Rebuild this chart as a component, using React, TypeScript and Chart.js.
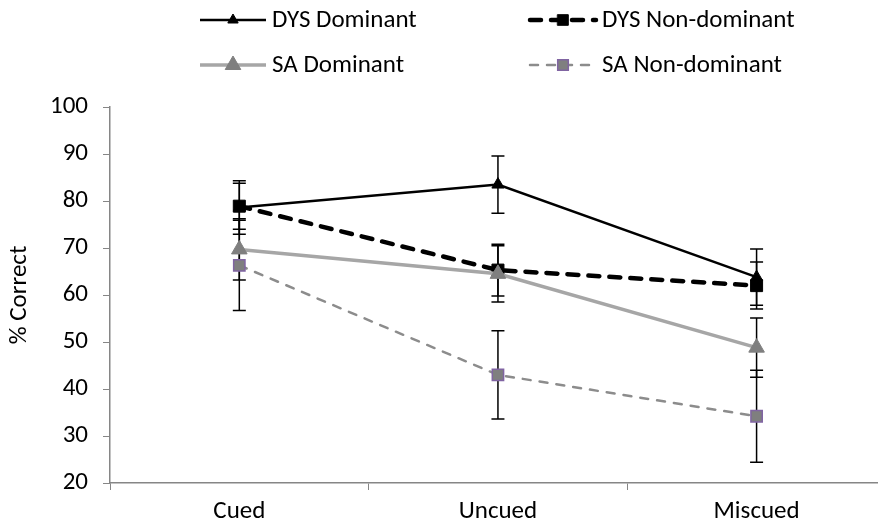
import React, { useEffect, useRef } from 'react';
import { Chart, registerables } from 'chart.js';

Chart.register(...registerables);

// ---------- data ----------
const categories = ['Cued', 'Uncued', 'Miscued'];
const seriesNames = ['DYS Dominant', 'DYS Non-dominant', 'SA Dominant', 'SA Non-dominant'];
const dysDominant = [78.6, 83.5, 63.8];
const dysDominantErr = [5.7, 6.1, 6.0];
const dysNonDominant = [78.9, 65.3, 62.0];
const dysNonDominantErr = [4.9, 5.5, 5.0];
const saDominant = [69.7, 64.5, 48.8];
const saDominantErr = [6.5, 6.0, 6.3];
const saNonDominant = [66.3, 43.0, 34.2];
const saNonDominantErr = [9.6, 9.4, 9.8];
const yTickValues = [20, 30, 40, 50, 60, 70, 80, 90, 100];
const xBoundaryTicks = [-0.5, 0.5, 1.5];

// ---------- styles ----------
const FONT_FAMILY = 'Carlito, Lato, "Open Sans", sans-serif';
const FONT_SIZE = 25;
const AXIS = '#868686';
const X_MAX = 2.4656;

const seriesValues = [dysDominant, dysNonDominant, saDominant, saNonDominant];
const seriesErrors = [dysDominantErr, dysNonDominantErr, saDominantErr, saNonDominantErr];
const seriesStyles = [
  { line: '#000000', width: 2.5, dash: [], cap: 'butt', point: 'triangle', radius: 7, legendRadius: 6, fill: '#000000', border: '#000000', pbw: 1, order: 4 },
  { line: '#000000', width: 4.5, dash: [11, 10], cap: 'round', point: 'rect', radius: 8.5, legendRadius: 7.5, fill: '#000000', border: '#000000', pbw: 1, order: 3 },
  { line: '#a6a6a6', width: 3.5, dash: [], cap: 'butt', point: 'triangle', radius: 9, legendRadius: 9, fill: '#7f7f7f', border: '#7f7f7f', pbw: 1, order: 2 },
  { line: '#8c8c8c', width: 2.5, dash: [8, 9], cap: 'round', point: 'rect', radius: 8, legendRadius: 7.5, fill: '#7f7f7f', border: '#8064a2', pbw: 1.5, order: 1 },
];

function drawMarker(ctx: CanvasRenderingContext2D, style: string, x: number, y: number, r: number, fill: string, border: string, bw: number) {
  ctx.save();
  ctx.beginPath();
  if (style === 'triangle') {
    let rad = 0;
    ctx.moveTo(x + Math.sin(rad) * r, y - Math.cos(rad) * r);
    rad += (2 * Math.PI) / 3;
    ctx.lineTo(x + Math.sin(rad) * r, y - Math.cos(rad) * r);
    rad += (2 * Math.PI) / 3;
    ctx.lineTo(x + Math.sin(rad) * r, y - Math.cos(rad) * r);
    ctx.closePath();
  } else {
    const s = Math.SQRT1_2 * r;
    ctx.rect(x - s, y - s, 2 * s, 2 * s);
  }
  ctx.fillStyle = fill;
  ctx.fill();
  ctx.lineWidth = bw;
  ctx.strokeStyle = border;
  ctx.setLineDash([]);
  ctx.stroke();
  ctx.restore();
}

const errorBarPlugin = {
  id: 'errorBars',
  beforeDatasetsDraw(chart: any) {
    const { ctx, scales } = chart;
    const xs = scales.x;
    const ys = scales.y;
    ctx.save();
    ctx.strokeStyle = '#000000';
    ctx.lineWidth = 1.5;
    ctx.setLineDash([]);
    seriesValues.forEach((vals, si) => {
      vals.forEach((v, i) => {
        const e = seriesErrors[si][i];
        const px = xs.getPixelForValue(i);
        const top = ys.getPixelForValue(v + e);
        const bot = ys.getPixelForValue(v - e);
        ctx.beginPath();
        ctx.moveTo(px, top);
        ctx.lineTo(px, bot);
        ctx.moveTo(px - 6.5, top);
        ctx.lineTo(px + 6.5, top);
        ctx.moveTo(px - 6.5, bot);
        ctx.lineTo(px + 6.5, bot);
        ctx.stroke();
      });
    });
    ctx.restore();
  },
};

const legendPlugin = {
  id: 'customLegend',
  afterDraw(chart: any) {
    const { ctx } = chart;
    const cols = [200, 530];
    const rows = [20, 65];
    const lineLen = 66;
    ctx.save();
    seriesNames.forEach((name, i) => {
      const st = seriesStyles[i];
      const x = cols[i % 2];
      const y = rows[Math.floor(i / 2)];
      ctx.beginPath();
      ctx.strokeStyle = st.line;
      ctx.lineWidth = st.width;
      ctx.lineCap = st.cap as CanvasLineCap;
      ctx.setLineDash(st.dash);
      ctx.moveTo(x, y);
      ctx.lineTo(x + lineLen, y);
      ctx.stroke();
      ctx.setLineDash([]);
      drawMarker(ctx, st.point, x + lineLen / 2, y, st.legendRadius, st.fill, st.border, st.pbw);
      ctx.fillStyle = '#000000';
      ctx.font = `${FONT_SIZE}px ${FONT_FAMILY}`;
      ctx.textBaseline = 'middle';
      ctx.textAlign = 'left';
      ctx.fillText(name, x + lineLen + 6, y + 1);
    });
    ctx.restore();
  },
};

export default function App() {
  const ref = useRef<HTMLCanvasElement | null>(null);

  useEffect(() => {
    document.body.style.margin = '0';
    const canvas = ref.current;
    if (!canvas) return;
    const font = { family: FONT_FAMILY, size: FONT_SIZE };
    const chart = new Chart(canvas, {
      type: 'line',
      data: {
        datasets: seriesNames.map((name, si) => {
          const st = seriesStyles[si];
          return {
            label: name,
            data: seriesValues[si].map((v, i) => ({ x: i, y: v })),
            borderColor: st.line,
            borderWidth: st.width,
            borderDash: st.dash,
            borderCapStyle: st.cap,
            pointStyle: st.point,
            pointRadius: st.radius,
            pointBackgroundColor: st.fill,
            pointBorderColor: st.border,
            pointBorderWidth: st.pbw,
            fill: false,
            tension: 0,
            order: st.order,
          } as any;
        }),
      },
      options: {
        responsive: false,
        animation: false,
        devicePixelRatio: 1,
        layout: { padding: { top: 107, right: 0, bottom: 0, left: 0 } },
        plugins: { legend: { display: false }, tooltip: { enabled: false } },
        scales: {
          x: {
            type: 'linear',
            min: -0.5,
            max: X_MAX,
            afterBuildTicks: (s: any) => {
              const vals = [...xBoundaryTicks, ...categories.map((_, i) => i)].sort((a, b) => a - b);
              s.ticks = vals.map((v) => ({ value: v }));
            },
            afterFit: (s: any) => {
              s.height = 45;
            },
            grid: {
              drawOnChartArea: false,
              drawTicks: true,
              tickLength: 7,
              tickColor: (c: any) => (c.tick && Number.isInteger(c.tick.value) ? 'rgba(0,0,0,0)' : AXIS),
            },
            border: { color: AXIS, width: 1.5 },
            ticks: {
              autoSkip: false,
              maxRotation: 0,
              padding: 7,
              color: '#000000',
              font,
              callback: (v: any) => (Number.isInteger(v) ? categories[v] : ''),
            },
          },
          y: {
            min: 20,
            max: 100,
            afterBuildTicks: (s: any) => {
              s.ticks = yTickValues.map((v) => ({ value: v }));
            },
            afterFit: (s: any) => {
              s.width = 110;
            },
            grid: { drawOnChartArea: false, drawTicks: true, tickLength: 7, tickColor: AXIS },
            border: { color: AXIS, width: 1.5 },
            ticks: { padding: 15, color: '#000000', font },
            title: { display: true, text: '% Correct', color: '#000000', font, padding: { top: 5, bottom: 0 } },
          },
        },
      } as any,
      plugins: [errorBarPlugin, legendPlugin],
    });
    return () => chart.destroy();
  }, []);

  return (
    <div style={{ width: 887, height: 528 }}>
      <canvas ref={ref} width={887} height={528} style={{ display: 'block' }} />
    </div>
  );
}
